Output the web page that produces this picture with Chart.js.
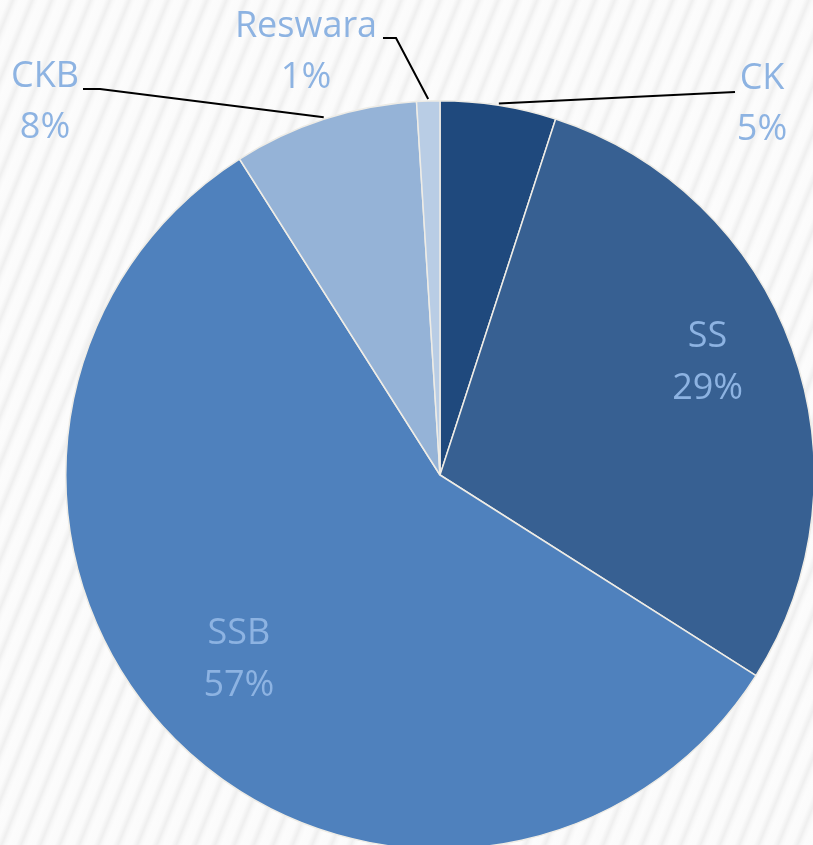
<!DOCTYPE html>
<html>
<head>
<meta charset="utf-8">
<script src="https://cdn.jsdelivr.net/npm/chart.js@4.4.0/dist/chart.umd.min.js"></script>
<style>
    html, body {
        margin: 0;
        padding: 0;
        width: 813px;
        height: 845px;
        overflow: hidden;
        background: repeating-linear-gradient(112deg, #fcfcfc 0px, #fbfbfb 7px, #efefef 12px, #f8f8f8 15px, #fcfcfc 18px);
    }
    #wrap {
        position: absolute;
        left: 0;
        top: 0;
        width: 880px;
        height: 900px;
    }
</style>
</head>
<body>
<div id="wrap"><canvas id="myChart"></canvas></div>
<script>
    const categories = ["CK", "SS", "SSB", "CKB", "Reswara"];
    const shares = [5, 29, 57, 8, 1];
    const sliceColors = ["#1f497d", "#376092", "#4f81bd", "#95b3d7", "#b9cde5"];

    // callout labels sit outside the pie, the rest go inside the slice
    const callouts = {
        "CK": { x: 762, y: 79, lineTo: [[735, 92]] },
        "CKB": { x: 45, y: 77, lineTo: [[100, 89], [83, 89]] },
        "Reswara": { x: 306, y: 27, lineTo: [[396, 38], [383, 38]] }
    };

    const labelFont = "36px 'Open Sans', sans-serif";
    const labelColor = "#8db3e2";

    const pieLabels = {
        id: "pieLabels",
        afterDraw: (chart) => {
            const ctx = chart.ctx;
            const arcs = chart.getDatasetMeta(0).data;
            ctx.save();
            ctx.font = labelFont;
            ctx.textAlign = "center";
            ctx.textBaseline = "middle";
            arcs.forEach((arc, i) => {
                const name = categories[i];
                const text = shares[i] + "%";
                const mid = (arc.startAngle + arc.endAngle) / 2;
                const c = callouts[name];
                if (c) {
                    // leader line from the slice edge to the label
                    const ex = arc.x + Math.cos(mid) * (arc.outerRadius + 2);
                    const ey = arc.y + Math.sin(mid) * (arc.outerRadius + 2);
                    ctx.strokeStyle = "#000000";
                    ctx.lineWidth = 2;
                    ctx.beginPath();
                    ctx.moveTo(ex, ey);
                    c.lineTo.forEach(p => ctx.lineTo(p[0], p[1]));
                    ctx.stroke();
                    ctx.fillStyle = labelColor;
                    ctx.fillText(name, c.x, c.y);
                    ctx.fillText(text, c.x, c.y + 51);
                } else {
                    const r = arc.outerRadius * 0.76;
                    const x = arc.x + Math.cos(mid) * r;
                    const y = arc.y + Math.sin(mid) * r - 16;
                    ctx.fillStyle = labelColor;
                    ctx.fillText(name, x, y - 26);
                    ctx.fillText(text, x, y + 26);
                }
            });
            ctx.restore();
        }
    };

    const ctx = document.getElementById("myChart").getContext("2d");
    const myChart = new Chart(ctx, {
        type: "pie",
        data: {
            labels: categories,
            datasets: [{
                data: shares,
                backgroundColor: sliceColors,
                borderColor: "#eeece6",
                borderWidth: 1.5
            }]
        },
        options: {
            responsive: true,
            maintainAspectRatio: false,
            animation: false,
            layout: {
                padding: { left: 65, right: 65, top: 100, bottom: 50 }
            },
            plugins: {
                legend: { display: false },
                tooltip: { enabled: false }
            }
        },
        plugins: [pieLabels]
    });
</script>
</body>
</html>
